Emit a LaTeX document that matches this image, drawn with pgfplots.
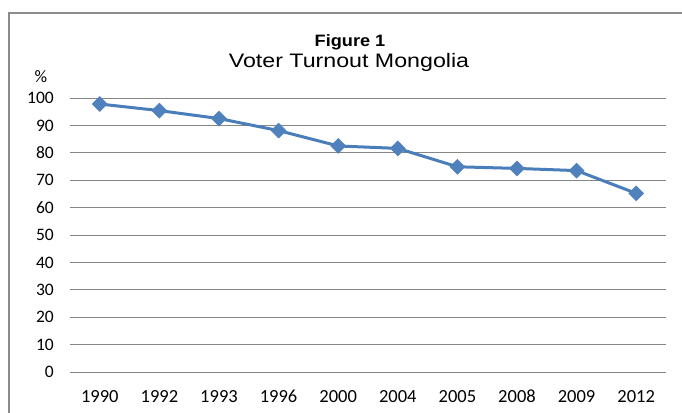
\documentclass[border=0pt]{standalone}
\usepackage{fontspec}
\setmainfont{Liberation Sans}
\newfontfamily\calibri{Carlito}
\usepackage{pgfplots}
\pgfplotsset{compat=1.18}
\definecolor{lineblue}{HTML}{4A7EBB}
\definecolor{markblue}{HTML}{4F81BD}
\definecolor{gridgray}{HTML}{868686}
\definecolor{framegray}{HTML}{8C8C8C}
\begin{document}
\begin{tikzpicture}[x=1pt,y=1pt]
\useasboundingbox (0,0) rectangle (682,412);
\draw[framegray, line width=1.2pt] (9,-5) -- (9,399) -- (690,399);
\node[anchor=base] at (350,365) {\scalebox{1.1}[1]{\fontsize{16.5}{16.5}\selectfont\bfseries Figure 1}};
\node[anchor=base] at (349,344) {\scalebox{1.19}[1]{\fontsize{19.5}{19.5}\selectfont Voter Turnout Mongolia}};
\node at (41,335.5) {\calibri\fontsize{17.5}{17.5}\selectfont \%};
\begin{axis}[
  at={(70pt,40pt)}, anchor=south west,
  scale only axis, width=596pt, height=274pt,
  xmin=-0.5, xmax=9.5, ymin=0, ymax=100,
  xtick={0,...,9},
  xticklabels={1990,1992,1993,1996,2000,2004,2005,2008,2009,2012},
  ytick={0,10,...,100},
  axis line style={draw=none},
  ymajorgrids, grid style={gridgray, line width=0.9pt},
  major tick style={draw=none},
  ticklabel style={font=\calibri\fontsize{17.5}{17.5}\selectfont},
  /pgf/number format/assume math mode=true,
  yticklabel style={anchor=east, inner sep=0pt, xshift=-16pt},
  xticklabel style={anchor=base, inner sep=0pt, yshift=-30pt},
  x tick label style={font=\calibri\fontsize{18.5}{18.5}\selectfont},
  clip=false,
]
\addplot[color=lineblue, line width=3pt, mark=square*, mark size=5.3pt,
  mark options={rotate=45, fill=markblue, draw=markblue, line width=0.5pt}]
  coordinates {(0,97.8) (1,95.4) (2,92.5) (3,88.1) (4,82.5) (5,81.6) (6,74.9) (7,74.3) (8,73.5) (9,65.2)};
\end{axis}
\end{tikzpicture}
\end{document}
